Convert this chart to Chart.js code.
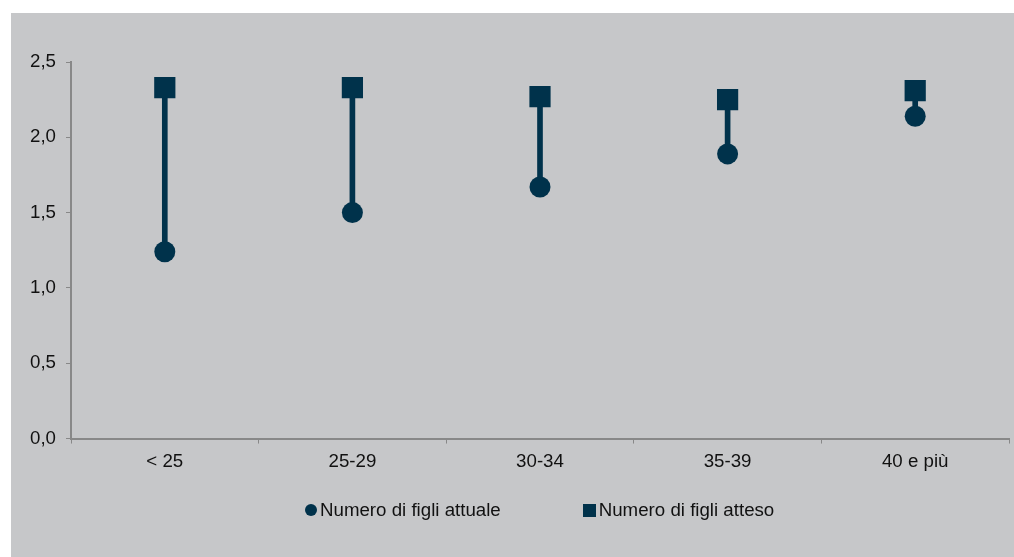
<!DOCTYPE html>
<html lang="it">
<head>
    <meta charset="UTF-8">
    <title>Numero di figli attuale e atteso</title>
    <script src="https://cdn.jsdelivr.net/npm/chart.js"></script>
    <style>
        html, body {
            margin: 0;
            padding: 0;
            background: #ffffff;
        }
        #wrap {
            position: relative;
            width: 1014px;
            height: 557px;
        }
        #legenda {
            position: absolute;
            left: 305px;
            top: 499px;
            display: flex;
            align-items: center;
            font-family: "Liberation Sans", Arial, sans-serif;
            font-size: 18.7px;
            line-height: 22px;
            color: #111111;
            white-space: nowrap;
        }
        #legenda .voce {
            display: flex;
            align-items: center;
        }
        #legenda .voce + .voce {
            margin-left: 82px;
        }
        #legenda .segno {
            width: 13px;
            height: 13px;
            margin-right: 3px;
        }
        #legenda .tondo {
            width: 12px;
            height: 12px;
            border-radius: 50%;
        }
    </style>
</head>
<body>

<div id="wrap">
    <canvas id="figliChart" width="1014" height="557"></canvas>
    <div id="legenda"></div>
</div>

<script>
    const classi = ['< 25', '25-29', '30-34', '35-39', '40 e più'];
    const figliAttuali = [1.24, 1.50, 1.67, 1.89, 2.14];
    const figliAttesi = [2.33, 2.33, 2.27, 2.25, 2.31];
    const yTicks = [0, 0.5, 1, 1.5, 2, 2.5];

    const navy = '#00324b';
    const grigioAsse = '#888888';
    const testo = '#111111';
    const font = { family: '"Liberation Sans", Arial, sans-serif', size: 18.7 };

    // sfondo grigio del riquadro
    const sfondo = {
        id: 'sfondo',
        beforeDraw(chart) {
            const ctx = chart.ctx;
            ctx.save();
            ctx.fillStyle = '#c6c7c9';
            ctx.fillRect(11, 13, chart.width - 11, chart.height - 13);
            ctx.restore();
        }
    };

    const ctx = document.getElementById('figliChart').getContext('2d');
    const chart = new Chart(ctx, {
        type: 'bar',
        data: {
            labels: classi,
            datasets: [
                {
                    label: 'Numero di figli attuale',
                    type: 'line',
                    data: figliAttuali,
                    showLine: false,
                    pointStyle: 'circle',
                    pointRadius: 10.5,
                    pointBackgroundColor: navy,
                    pointBorderColor: navy,
                    pointBorderWidth: 0,
                    backgroundColor: navy,
                    borderColor: navy,
                    order: 1
                },
                {
                    label: 'Numero di figli atteso',
                    type: 'line',
                    data: figliAttesi,
                    showLine: false,
                    pointStyle: 'rect',
                    pointRadius: 15,
                    pointBackgroundColor: navy,
                    pointBorderColor: navy,
                    pointBorderWidth: 0,
                    backgroundColor: navy,
                    borderColor: navy,
                    order: 1
                },
                {
                    label: 'collegamento',
                    data: figliAttuali.map((v, i) => [v, figliAttesi[i]]),
                    backgroundColor: navy,
                    barThickness: 5,
                    borderSkipped: false,
                    order: 2
                }
            ]
        },
        options: {
            responsive: false,
            animation: false,
            layout: {
                autoPadding: false,
                padding: { left: 11, top: 62, right: 5, bottom: 77 }
            },
            scales: {
                x: {
                    offset: true,
                    afterFit(scale) {
                        scale.paddingLeft = 0;
                        scale.paddingRight = 0;
                    },
                    grid: {
                        offset: true,
                        drawOnChartArea: false,
                        drawTicks: true,
                        tickLength: 5,
                        color: grigioAsse
                    },
                    border: { display: true, color: grigioAsse, width: 2 },
                    ticks: { padding: 7, color: testo, font: font }
                },
                y: {
                    min: 0,
                    max: 2.5,
                    afterFit(scale) { scale.width = 60; },
                    afterBuildTicks(scale) {
                        scale.ticks = yTicks.map(v => ({ value: v }));
                    },
                    grid: {
                        drawOnChartArea: false,
                        drawTicks: true,
                        tickLength: 5,
                        color: grigioAsse
                    },
                    border: { display: true, color: grigioAsse, width: 2 },
                    ticks: {
                        padding: 10,
                        color: testo,
                        font: font,
                        callback: v => v.toFixed(1).replace('.', ',')
                    }
                }
            },
            plugins: {
                legend: { display: false },
                tooltip: { enabled: false }
            }
        },
        plugins: [sfondo]
    });

    // legenda HTML costruita dalle serie visibili
    const legenda = document.getElementById('legenda');
    chart.data.datasets.slice(0, 2).forEach(ds => {
        const voce = document.createElement('span');
        voce.className = 'voce';
        const segno = document.createElement('span');
        segno.className = ds.pointStyle === 'circle' ? 'segno tondo' : 'segno';
        segno.style.background = ds.backgroundColor;
        voce.appendChild(segno);
        voce.appendChild(document.createTextNode(ds.label));
        legenda.appendChild(voce);
    });
</script>

</body>
</html>
